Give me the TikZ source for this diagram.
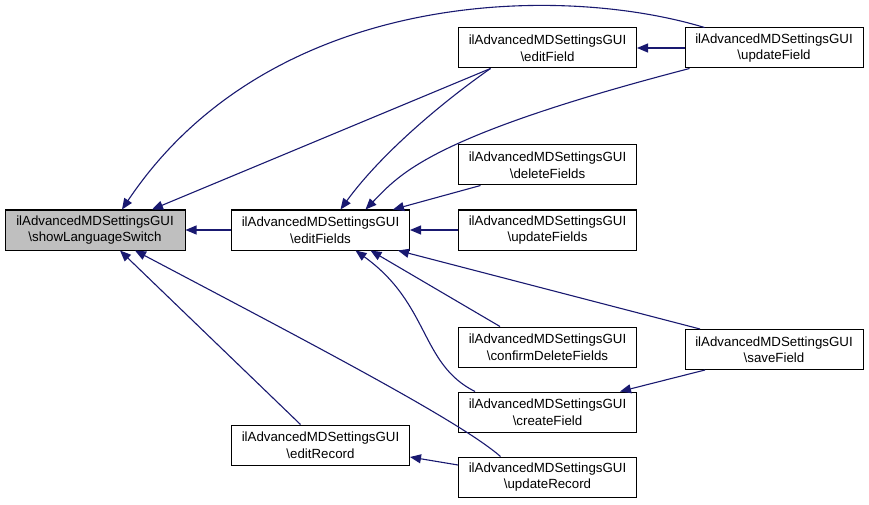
\documentclass[tikz,border=0pt]{standalone}
\usepackage{fontspec}
\setmainfont{Liberation Sans}
\usetikzlibrary{arrows.meta,calc}
\definecolor{edgeblue}{HTML}{191970}
\begin{document}
\begin{tikzpicture}[x=1pt, y=1pt,
		fn/.style={draw, line width=1pt, minimum width=178pt, minimum height=40pt, inner sep=0pt, align=center, font=\fontsize{13.3}{16.5}\selectfont},
		call/.style={draw=edgeblue, line width=1.1pt, -{Triangle[length=11pt, width=9pt]}}]
		\useasboundingbox (0,0) rectangle (869,504);
		%function boxes
		\node[fn, fill=black!25, minimum width=180pt] (show) at (95, 274){ilAdvancedMDSettingsGUI\\\textbackslash showLanguageSwitch};
		\foreach \name/\x/\y/\method in {editFields/320.5/274/editFields, editField/547.5/456/editField, updateField/774/456/updateField, deleteFields/547.5/339/deleteFields, updateFields/547.5/274/updateFields, confirmDelete/547.5/157/confirmDeleteFields, saveField/774/154.5/saveField, createField/547.5/92/createField, editRecord/320.5/59/editRecord, updateRecord/547.5/27/updateRecord}{
			\node[fn] (\name) at (\x, \y){ilAdvancedMDSettingsGUI\\\textbackslash \method};
		}
		
		%callers of showLanguageSwitch
		\draw[call] (editFields.west) -- (show.east);
		\draw[call] ($(editField.south)+(-57,0)$) -- ($(show.north)+(57,0)$);
		\draw[call] ($(updateField.north west)+(20,0)$) .. controls +(-145,44) and +(148,221) .. ($(show.north)+(27,0)$);
		\draw[call] ($(editRecord.north)+(-20,0)$) -- ($(show.south)+(25,0)$);
		\draw[call] ($(updateRecord.north)+(-47,0)$) .. controls +(-40,35) and +(180,-95) .. ($(show.south)+(40,0)$);
		
		%callers of editFields
		\draw[call] (updateFields.west) -- (editFields.east);
		\draw[call] ($(editField.south)+(-57,0)$) .. controls +(-50,-35) and +(40,55) .. ($(editFields.north)+(20,0)$);
		\draw[call] ($(updateField.south west)+(5,0)$) .. controls (430,368) and (400,330) .. ($(editFields.north)+(45,0)$);
		\draw[call] ($(deleteFields.south)+(-67,0)$) -- ($(editFields.north east)+(-17,0)$);
		\draw[call] ($(confirmDelete.north)+(-47.5,0)$) -- ($(editFields.south)+(50,0)$);
		\draw[call] ($(createField.north)+(-72.5,0)$) .. controls (420,140) and (430,200) .. ($(editFields.south)+(35,0)$);
		\draw[call] ($(saveField.north)+(-74,0)$) -- ($(editFields.south east)+(-12,0)$);
		
		%remaining calls
		\draw[call] (updateField.west) -- (editField.east);
		\draw[call] ($(saveField.south)+(-69,0)$) -- ($(createField.north east)+(-17,0)$);
		\draw[call] ($(updateRecord.west)+(0,12)$) -- ($(editRecord.east)+(0,-12)$);
		\end{tikzpicture}
\end{document}
